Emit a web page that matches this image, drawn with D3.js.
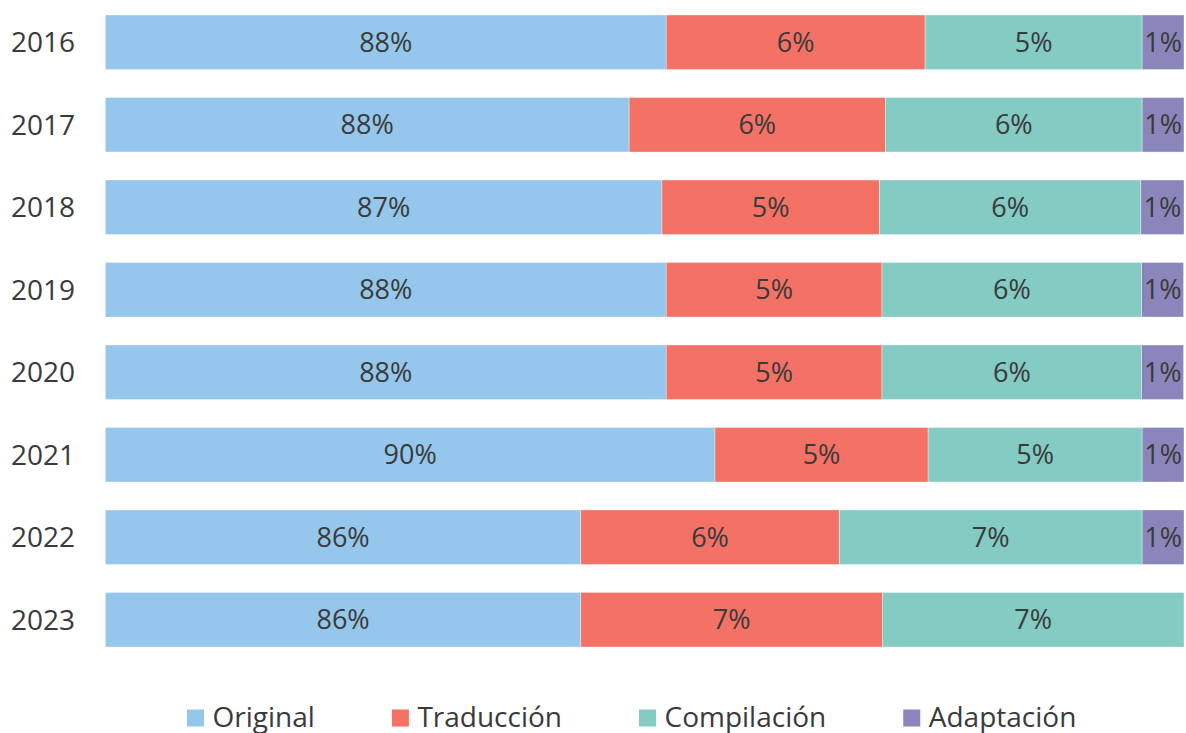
<!DOCTYPE html>
<html>
<head>
<meta charset="utf-8">
<script src="https://cdn.jsdelivr.net/npm/d3@7"></script>
<style>
  body { margin: 0; background: #fff; }
  text { font-family: "Open Sans", "Noto Sans", sans-serif; fill: #3a3a3a; }
</style>
</head>
<body>
<div id="chart"></div>
<script>
// years on the axis
const years = ["2016", "2017", "2018", "2019", "2020", "2021", "2022", "2023"];
const series = ["Original", "Traducción", "Compilación", "Adaptación"];

// shares
const original    = [0.880, 0.8714, 0.879, 0.880, 0.880, 0.8913, 0.8602, 0.8602];
const traduccion  = [0.060, 0.0594, 0.0504, 0.050, 0.050, 0.0494, 0.0599, 0.0699];
const compilacion = [0.0503, 0.0595, 0.0606, 0.0602, 0.0602, 0.0496, 0.0702, 0.0699];
const adaptacion  = [0.0097, 0.0097, 0.010, 0.0097, 0.0097, 0.0097, 0.0097, 0];

// the percentages printed in the bars
const lblOriginal    = [88, 88, 87, 88, 88, 90, 86, 86];
const lblTraduccion  = [6, 6, 5, 5, 5, 5, 6, 7];
const lblCompilacion = [5, 6, 6, 6, 6, 5, 7, 7];
const lblAdaptacion  = [1, 1, 1, 1, 1, 1, 1, null];

const colors = ["#95c6eb", "#f47265", "#83cbc3", "#8a86bb"];

const width = 1186;
const height = 733;

const data = years.map((y, i) => ({
    year: y,
    "Original": original[i],
    "Traducción": traduccion[i],
    "Compilación": compilacion[i],
    "Adaptación": adaptacion[i]
}));
const labels = [lblOriginal, lblTraduccion, lblCompilacion, lblAdaptacion];

const stacked = d3.stack().keys(series)(data);

// axis starts at 75%, as in the original chart
const xScale = d3.scaleLinear()
    .domain([0.75, 1])
    .range([105.3, 1184])
    .clamp(true);

const yScale = d3.scaleBand()
    .domain(years)
    .range([1.03, 660.97])
    .paddingInner(0.339)
    .paddingOuter(0.1695);

const svg = d3.select("#chart")
    .append("svg")
    .attr("width", width)
    .attr("height", height);

const layers = svg.append("g")
    .selectAll("g")
    .data(stacked)
    .join("g")
    .attr("fill", (d, i) => colors[i]);

layers.selectAll("rect")
    .data(d => d)
    .join("rect")
    .attr("x", d => xScale(d[0]))
    .attr("y", d => yScale(d.data.year))
    .attr("width", d => xScale(d[1]) - xScale(d[0]))
    .attr("height", yScale.bandwidth())
    .attr("stroke", "#fff")
    .attr("stroke-width", 0.6)
    .attr("stroke-opacity", 0.6);

// data labels centred in the visible part of each segment
stacked.forEach((layer, si) => {
    svg.append("g")
        .selectAll("text")
        .data(layer.filter((d, i) => labels[si][i] != null))
        .join("text")
        .attr("x", d => (xScale(d[0]) + xScale(d[1])) / 2)
        .attr("y", d => yScale(d.data.year) + yScale.bandwidth() / 2)
        .attr("dy", "0.35em")
        .attr("text-anchor", "middle")
        .attr("font-size", 27)
        .text(d => labels[si][years.indexOf(d.data.year)] + "%");
});

// year labels on the left
svg.append("g")
    .selectAll("text")
    .data(years)
    .join("text")
    .attr("x", 75)
    .attr("y", d => yScale(d) + yScale.bandwidth() / 2)
    .attr("dy", "0.35em")
    .attr("text-anchor", "end")
    .attr("font-size", 28)
    .text(d => d);

// legend
const legend = svg.append("g").attr("transform", "translate(187,0)");
const items = legend.selectAll("g")
    .data(series)
    .join("g");
items.append("rect")
    .attr("width", 17)
    .attr("height", 17)
    .attr("y", 709.5)
    .attr("fill", (d, i) => colors[i]);
items.append("text")
    .attr("x", 25.5)
    .attr("y", 717)
    .attr("dy", "0.35em")
    .attr("font-size", 28)
    .text(d => d);

let xPos = 0;
const gap = 77;
items.each(function () {
    const w = 25.5 + d3.select(this).select("text").node().getComputedTextLength();
    d3.select(this).attr("transform", `translate(${xPos},0)`);
    xPos += w + gap;
});
</script>
</body>
</html>
